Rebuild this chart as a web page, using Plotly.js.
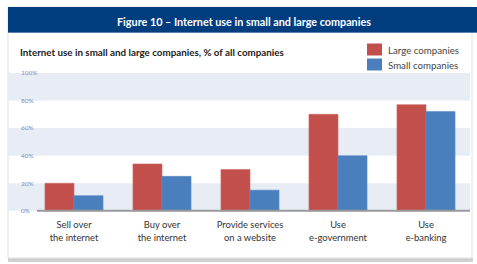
<!DOCTYPE html>
<html>
<head>
<meta charset="utf-8">
<script src="https://cdn.plot.ly/plotly-3.0.1.min.js"></script>
<style>
html,body{margin:0;padding:0;background:#fff;}
#chart{width:477px;height:264px;}
</style>
</head>
<body>
<div id="chart"></div>
<script>
var categories = ["Sell over<br>the internet", "Buy over<br>the internet", "Provide services<br>on a website", "Use<br>e-government", "Use<br>e-banking"];
var seriesNames = ["Large companies", "Small companies"];
var largeValues = [20, 34, 30, 70, 77];
var smallValues = [11, 25, 15, 40, 72];
var tickValues = [0, 20, 40, 60, 80, 100];
var tickLabels = ["0%", "20%", "40%", "60%", "80%", "100%"];

var W = 477, H = 264;
var M = {l: 8, r: 7, t: 66, b: 49};
var PW = W - M.l - M.r, PH = H - M.t - M.b;
function px(x) { return (x - M.l) / PW; }
function py(y) { return (H - M.b - y) / PH; }

var red = "#c24f4c", blue = "#4a7ebd";

var traces = [
  {type: "bar", name: seriesNames[0], x: categories, y: largeValues,
   marker: {color: red, line: {color: "#d06a66", width: 0.6}}, hoverinfo: "none"},
  {type: "bar", name: seriesNames[1], x: categories, y: smallValues,
   marker: {color: blue, line: {color: "#5c8dc8", width: 0.6}}, hoverinfo: "none"}
];

var shapes = [];
// panel
shapes.push({type: "rect", xref: "paper", yref: "paper", x0: px(8), x1: px(473), y0: py(262), y1: py(258),
  fillcolor: "#cfcfcf", line: {width: 0}, layer: "below"});
shapes.push({type: "rect", xref: "paper", yref: "paper", x0: px(8), x1: px(472), y0: py(258), y1: py(7),
  fillcolor: "#ffffff", line: {color: "#e2e2e2", width: 1}, layer: "below"});
// header
shapes.push({type: "rect", xref: "paper", yref: "paper", x0: px(8), x1: px(477), y0: py(33), y1: py(7),
  fillcolor: "#003d7f", line: {width: 0}, layer: "below"});
shapes.push({type: "line", xref: "paper", yref: "paper", x0: px(8), x1: px(477), y0: py(32.5), y1: py(32.5),
  line: {color: "#5a7fb3", width: 1}, layer: "below"});
// alternating bands from tick values
for (var i = 0; i < tickValues.length - 1; i += 2) {
  shapes.push({type: "rect", xref: "paper", yref: "y", x0: 0, x1: 1, y0: tickValues[i], y1: tickValues[i + 1],
    fillcolor: "#e8ecf5", line: {width: 0}, layer: "below"});
}
// baseline
shapes.push({type: "line", xref: "x", yref: "y", x0: -0.42, x1: 4.5, y0: 0, y1: 0,
  line: {color: "#9a9a9a", width: 2}, layer: "above"});
// legend swatches
var legColors = [red, blue];
var legY = [49.5, 64.5];
var annotations = [];
for (var k = 0; k < seriesNames.length; k++) {
  shapes.push({type: "rect", xref: "paper", yref: "paper", x0: px(367), x1: px(382), y0: py(legY[k] + 6), y1: py(legY[k] - 6),
    fillcolor: legColors[k], line: {width: 0}});
  annotations.push({xref: "paper", yref: "paper", x: px(386), y: py(legY[k] + 0.5), xanchor: "left", yanchor: "middle",
    text: seriesNames[k], showarrow: false, font: {family: "Lato, sans-serif", size: 9.7, color: "#444"}});
}
annotations.push({xref: "paper", yref: "paper", x: px(244), y: py(21), xanchor: "center", yanchor: "middle",
  text: "<b>Figure 10 – Internet use in small and large companies</b>", showarrow: false,
  font: {family: "Lato, sans-serif", size: 10.8, color: "#ffffff"}});
annotations.push({xref: "paper", yref: "paper", x: px(18), y: py(52), xanchor: "left", yanchor: "middle",
  text: "<b>Internet use in small and large companies, % of all companies</b>", showarrow: false,
  font: {family: "Lato, sans-serif", size: 9.8, color: "#222"}});

var layout = {
  width: W, height: H,
  margin: M,
  paper_bgcolor: "rgba(0,0,0,0)", plot_bgcolor: "rgba(0,0,0,0)",
  showlegend: false,
  barmode: "group", bargap: 0.34, bargroupgap: 0,
  xaxis: {type: "category", range: [-0.75, 4.5], showgrid: false, zeroline: false, showline: false,
    ticks: "", ticklabelstandoff: 3, tickfont: {family: "Lato, sans-serif", size: 9.4, color: "#333"}, fixedrange: true},
  yaxis: {range: [-3, 105], tickvals: tickValues, ticktext: tickLabels, ticklabelposition: "inside",
    ticklabelstandoff: 10, showgrid: false, zeroline: false, showline: false, ticks: "",
    tickfont: {family: "Lato, sans-serif", size: 6.5, color: "#7f8cc0"}, fixedrange: true},
  shapes: shapes,
  annotations: annotations
};

Plotly.newPlot("chart", traces, layout, {staticPlot: true, displayModeBar: false});
</script>
</body>
</html>
